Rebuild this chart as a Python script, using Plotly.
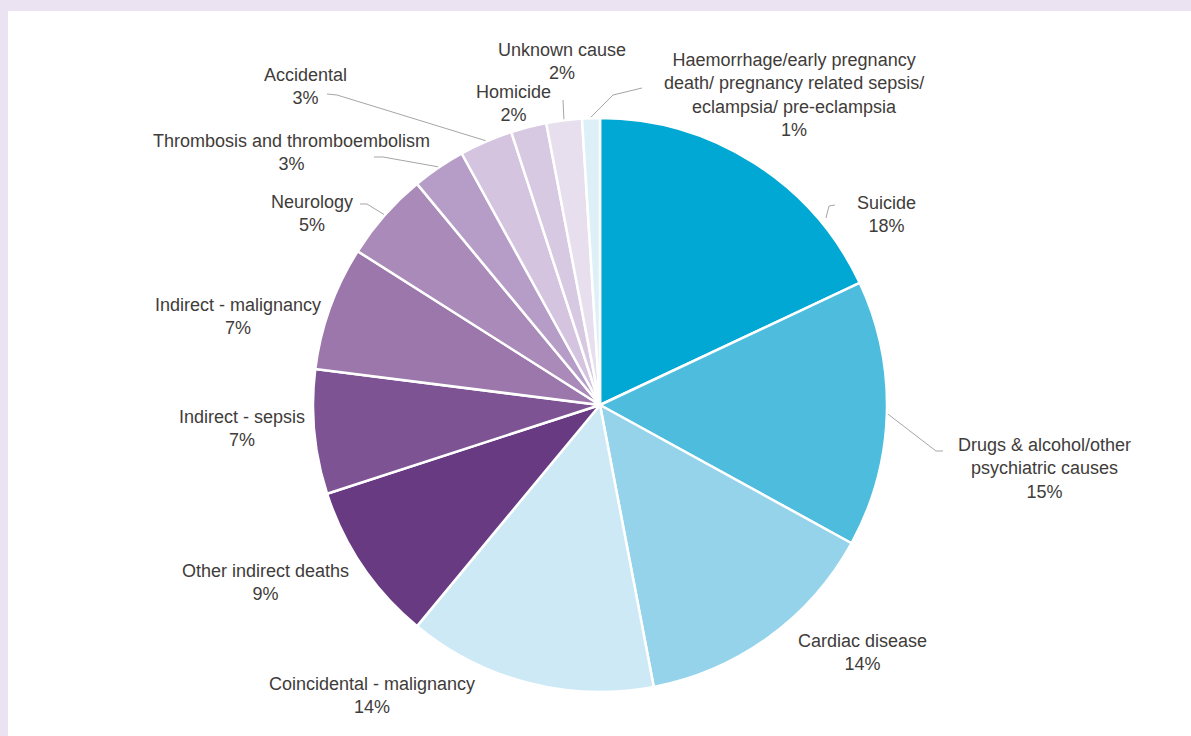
import math
import plotly.graph_objects as go

# ---------------- data ----------------
causes = [
    "Suicide",
    "Drugs & alcohol/other psychiatric causes",
    "Cardiac disease",
    "Coincidental - malignancy",
    "Other indirect deaths",
    "Indirect - sepsis",
    "Indirect - malignancy",
    "Neurology",
    "Thrombosis and thromboembolism",
    "Accidental",
    "Homicide",
    "Unknown cause",
    "Haemorrhage/early pregnancy death/ pregnancy related sepsis/ eclampsia/ pre-eclampsia",
]
percent = [18, 15, 14, 14, 9, 7, 7, 5, 3, 3, 2, 2, 1]

# label text (line breaks as in the chart)
label_text = [
    "Suicide",
    "Drugs & alcohol/other<br>psychiatric causes",
    "Cardiac disease",
    "Coincidental - malignancy",
    "Other indirect deaths",
    "Indirect - sepsis",
    "Indirect - malignancy",
    "Neurology",
    "Thrombosis and thromboembolism",
    "Accidental",
    "Homicide",
    "Unknown cause",
    "Haemorrhage/early pregnancy<br>death/ pregnancy related sepsis/<br>eclampsia/ pre-eclampsia",
]

# ---------------- style ----------------
colors = [
    "#00A8D3", "#4DBCDD", "#95D3EB", "#CCE9F5",
    "#673A82", "#7D5393", "#9B77AB", "#A98AB9",
    "#B69DC7", "#D4C4DF", "#D8C9E2", "#E7DFEE", "#DDF0F8",
]

W, H = 1191, 736
CX, CY, R = 600, 405, 287  # pie centre / radius in pixels


def px(x):
    return x / W


def py(y):
    return 1 - y / H


# label centres in pixels
label_pos = [
    (886, 214), (1044, 468), (862, 652), (372, 695), (265, 582),
    (242, 429), (238, 317), (312, 213), (291, 152), (305, 87),
    (513, 104), (562, 62), (794, 95),
]

# leader line elbows (pixels); end point computed from the slice mid angle
leaders = {
    0: [(835, 205), (829, 206)],
    1: [(943, 451), (936, 451)],
    7: [(360, 204), (367, 204)],
    8: [(374, 157), (383, 157)],
    9: [(327, 94), (337, 95)],
    11: [(563, 100)],
    12: [(642, 88), (613, 95)],
}

total = sum(percent)
cum = 0
mids = []
for v in percent:
    mids.append((cum + v / 2) / total)
    cum += v


def edge_point(frac, r):
    a = 2 * math.pi * frac
    return CX + r * math.sin(a), CY - r * math.cos(a)


fig = go.Figure(
    go.Pie(
        labels=causes,
        values=percent,
        sort=False,
        direction="clockwise",
        rotation=0,
        marker=dict(colors=colors, line=dict(color="white", width=2.5)),
        textinfo="none",
        hoverinfo="label+percent",
        showlegend=False,
        domain=dict(x=[px(CX - R), px(CX + R)], y=[py(CY + R), py(CY - R)]),
    )
)

shapes = [
    dict(type="rect", xref="paper", yref="paper", x0=px(8), x1=1, y0=0, y1=py(11),
         fillcolor="white", line=dict(width=0), layer="below"),
]

for i, pts in leaders.items():
    if i == 0:
        # suicide leader points to the nearest edge of its slice
        ex, ey = 826, 218
    else:
        ex, ey = edge_point(mids[i], R + 1)
    allpts = pts + [(ex, ey)]
    path = "M " + " L ".join(f"{px(x):.5f},{py(y):.5f}" for x, y in allpts)
    shapes.append(dict(type="path", xref="paper", yref="paper", path=path,
                       line=dict(color="#A6A6A6", width=1)))

annotations = []
for txt, p, (x, y) in zip(label_text, percent, label_pos):
    annotations.append(dict(
        x=px(x), y=py(y), xref="paper", yref="paper",
        text=f"{txt}<br>{p}%", showarrow=False,
        xanchor="center", yanchor="middle", align="center",
        font=dict(family="Liberation Sans, Arial, sans-serif", size=18, color="#403C3A"),
    ))

fig.update_layout(
    width=W, height=H,
    margin=dict(l=0, r=0, t=0, b=0),
    paper_bgcolor="#EBE3F1",
    plot_bgcolor="white",
    shapes=shapes,
    annotations=annotations,
)

fig.write_html(
    "out.html",
    config={"displayModeBar": False},
    post_script="document.body.style.margin='0';document.body.style.overflow='hidden';",
)
